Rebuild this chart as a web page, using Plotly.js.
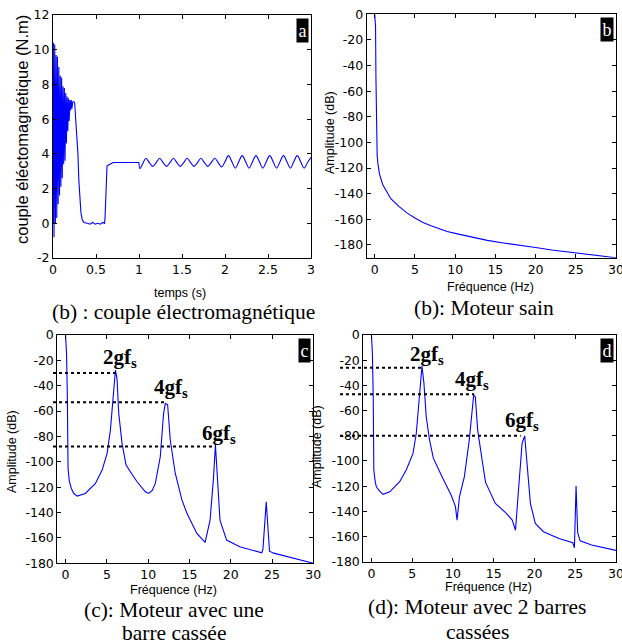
<!DOCTYPE html>
<html>
<head>
<meta charset="utf-8">
<script src="https://cdn.plot.ly/plotly-3.0.1.min.js"></script>
<style>
  html, body { margin: 0; padding: 0; background: #fff; }
  #chart { width: 622px; height: 644px; }
</style>
</head>
<body>
<div id="chart"></div>
<script>
// ---------- Panel a : electromagnetic torque ----------
var torqueStartT = [0, 0.004, 0.012, 0.02, 0.028, 0.036, 0.044, 0.052, 0.06, 0.068, 0.076, 0.084, 0.092, 0.1, 0.108, 0.116, 0.124, 0.132, 0.14, 0.148, 0.156, 0.164, 0.172, 0.18, 0.188, 0.196, 0.204, 0.212, 0.22, 0.23, 0.245,
  0.253, 0.27, 0.29, 0.30, 0.31, 0.325, 0.34, 0.36, 0.40, 0.43, 0.46, 0.49, 0.52, 0.55, 0.58, 0.60, 0.605, 0.612, 0.62, 0.628, 0.64, 0.66, 0.68, 0.70, 1.00];
var torqueStartV = [0, 10.4, -0.8, 10.3, 0.0, 9.7, 0.3, 9.6, 1.1, 9.0, 1.6, 8.5, 2.1, 8.4, 2.6, 7.9, 3.4, 7.8, 3.6, 7.5, 4.6, 7.3, 5.3, 7.2, 5.9, 7.1, 6.5, 7.1, 6.6, 7.0, 7.0,
  6.9, 5.5, 4.0, 2.5, 1.5, 0.6, 0.2, 0.05, 0.0, -0.05, 0.05, -0.05, 0.0, -0.05, 0.05, 0.0, 0.3, 1.5, 2.5, 3.3, 3.35, 3.4, 3.45, 3.5, 3.5];
var torqueLoadT = [1.00, 1.01, 1.045, 1.08, 1.12, 1.16, 1.20, 1.24, 1.28, 1.32, 1.36, 1.40, 1.44, 1.48, 1.52, 1.56, 1.60, 1.64, 1.68, 1.72, 1.76, 1.80, 1.84, 1.88, 1.92, 1.96, 2.00, 2.04, 2.08, 2.12, 2.16, 2.20, 2.24, 2.28, 2.32, 2.36, 2.40, 2.44, 2.48, 2.52, 2.56, 2.60, 2.64, 2.68, 2.72, 2.76, 2.80, 2.84, 2.88, 2.92, 2.96, 3.00];
var torqueLoadV = [3.5, 3.15, 3.45, 3.75, 3.5, 3.28, 3.5, 3.75, 3.5, 3.28, 3.5, 3.75, 3.5, 3.28, 3.5, 3.75, 3.5, 3.28, 3.5, 3.75, 3.5, 3.28, 3.5, 3.75, 3.5, 3.25, 3.55, 3.9, 3.55, 3.18, 3.55, 3.9, 3.55, 3.18, 3.55, 3.9, 3.55, 3.18, 3.55, 3.9, 3.55, 3.18, 3.55, 3.9, 3.55, 3.18, 3.55, 3.9, 3.55, 3.18, 3.5, 3.8];

// ---------- Panel b : healthy motor spectrum ----------
var freqB = [0, 0.1, 0.15, 0.2, 0.3, 0.4, 0.6, 1.0, 1.5, 2.0, 3.0, 4.0, 5.0, 6.0, 7.0, 8.0, 9.0, 10.0, 12.0, 14.0, 16.0, 18.0, 20.0, 22.0, 24.0, 26.0, 28.0, 30.0];
var ampB  = [0, -10, -50, -100, -110, -117, -125, -133, -138, -144, -150, -155, -159, -162.5, -165, -167.5, -169.5, -171, -174, -176.5, -178.5, -180, -182, -184, -185.5, -187, -188.5, -190];

// ---------- Panel c : one broken bar ----------
var freqC = [0, 0.12, 0.22, 0.3, 0.45, 0.7, 1.0, 1.41, 2.4, 3.0, 3.62, 4.43, 5.03, 5.43, 5.72, 6.04, 6.24, 6.44, 6.84, 7.33, 7.85, 8.66, 9.66, 10.07, 10.5, 10.87, 11.47, 11.87, 12.08, 12.36, 12.68, 13.28, 14.09, 14.7, 15.9, 16.9, 17.5, 17.9, 18.15, 18.4, 18.7, 19.5, 21.1, 23.75, 23.9, 24.3, 24.5, 24.7, 25.2, 27.5, 30];
var ampC  = [0, -15, -50, -105, -115, -121, -125, -127, -124.9, -121, -117, -106.5, -93.3, -75, -48.6, -27.6, -35, -61.8, -85.4, -102.5, -107.8, -115.7, -123.6, -124.9, -122.5, -117, -96, -61.8, -53.9, -55, -82.8, -109, -130, -140.6, -156.4, -163.5, -145.9, -114, -86.7, -114, -145.9, -161.7, -167, -171.7, -169, -131.5, -148, -170.5, -172, -176, -180];

// ---------- Panel d : two broken bars ----------
var freqD = [0, 0.12, 0.22, 0.29, 0.45, 0.6, 1.0, 1.43, 2.24, 3.46, 4.28, 5.1, 5.5, 5.9, 6.2, 6.44, 6.72, 7.13, 7.6, 8.75, 9.77, 10.3, 10.5, 10.8, 11.4, 12.0, 12.54, 12.74, 13.03, 13.64, 14.0, 15.2, 16.45, 17.27, 17.67, 18.07, 18.48, 18.8, 19.1, 19.5, 20.1, 21.1, 23.0, 24.7, 24.9, 25.1, 25.3, 25.6, 27.0, 30];
var ampD  = [0, -15, -50, -107, -116, -120.5, -124, -126.5, -124.5, -116.5, -107, -94, -78, -49, -24.6, -38.5, -64.9, -83.4, -98, -113.8, -127, -136, -147, -128.4, -112.5, -83.4, -47.7, -49, -75.5, -102, -117, -133.7, -141, -147, -155, -120.5, -86, -80.2, -101.5, -133.7, -149.6, -156.2, -161.5, -165, -169, -120, -157, -163.4, -166.8, -171];

// ---------- Peak markers (harmonic labels) ----------
var peakLabels = ['2gf<sub>s</sub>', '4gf<sub>s</sub>', '6gf<sub>s</sub>'];
var peaksCf = [6.04, 12.3, 18.15];
var peaksCa = [-30, -53, -88];
var labelCf = [6.64, 12.8, 18.6];
var labelCa = [-18, -42, -78];
var peaksDf = [6.27, 12.6, 18.3];
var peaksDa = [-26, -47, -80];
var labelDf = [6.8, 12.3, 18.5];
var labelDa = [-16, -36, -68];

// ---------- Tick labels ----------
var torqueTicks = [-2, 0, 2, 4, 6, 8, 10, 12];
var torqueTickText = ['-2', '0', '2', '4', '6', '8', '10', '12'];
var timeTicks = [0, 0.5, 1, 1.5, 2, 2.5, 3];
var timeTickText = ['0', '0.5', '1', '1.5', '2', '2.5', '3'];
var freqTicks = [0, 5, 10, 15, 20, 25, 30];
var freqTickText = ['0', '5', '10', '15', '20', '25', '30'];
var dbTicks = [0, -20, -40, -60, -80, -100, -120, -140, -160, -180];
var dbTickText = ['0', '-20', '-40', '-60', '-80', '-100', '-120', '-140', '-160', '-180'];

var blue = '#0000ff';
var tickFont = {family: 'DejaVu Sans', size: 12.5, color: '#000'};
var lineStyle = {color: blue, width: 1.1};

var traces = [
  {x: torqueStartT, y: torqueStartV, xaxis: 'x', yaxis: 'y', type: 'scatter', mode: 'lines', line: lineStyle, hoverinfo: 'skip'},
  {x: torqueLoadT, y: torqueLoadV, xaxis: 'x', yaxis: 'y', type: 'scatter', mode: 'lines', line: {color: blue, width: 1.1, shape: 'spline', smoothing: 1}, hoverinfo: 'skip'},
  {x: freqB, y: ampB, xaxis: 'x2', yaxis: 'y2', type: 'scatter', mode: 'lines', line: lineStyle, hoverinfo: 'skip'},
  {x: freqC, y: ampC, xaxis: 'x3', yaxis: 'y3', type: 'scatter', mode: 'lines', line: lineStyle, hoverinfo: 'skip'},
  {x: freqD, y: ampD, xaxis: 'x4', yaxis: 'y4', type: 'scatter', mode: 'lines', line: lineStyle, hoverinfo: 'skip'}
];

function axisBase(extra) {
  var a = {
    showline: true, linecolor: '#000', linewidth: 1, mirror: 'ticks',
    ticks: 'inside', ticklen: 4, tickwidth: 1, tickcolor: '#000',
    showgrid: false, zeroline: false, tickfont: tickFont, tickmode: 'array',
    ticklabeloverflow: 'allow', fixedrange: true
  };
  for (var k in extra) a[k] = extra[k];
  return a;
}
function hiddenAxis(extra) {
  var a = {visible: false, showgrid: false, zeroline: false, showline: false, fixedrange: true};
  for (var k in extra) a[k] = extra[k];
  return a;
}

var W = 622, H = 644;
function px(x) { return x / W; }
function py(y) { return 1 - y / H; }

var guideStartC = -1.52;   // guide lines of panel c start slightly left of its axis
var guideStartD = -3.86;   // guide lines of panel d start well left of its axis

var layout = {
  width: W, height: H,
  margin: {l: 0, r: 0, t: 0, b: 0},
  paper_bgcolor: '#fff', plot_bgcolor: 'rgba(0,0,0,0)',
  showlegend: false,
  font: {family: 'Liberation Sans', color: '#000'},
  xaxis:  axisBase({domain: [px(53), px(311)], anchor: 'y', range: [0, 3], tickvals: timeTicks, ticktext: timeTickText}),
  yaxis:  axisBase({domain: [py(258), py(15)], anchor: 'x', range: [-2, 12], tickvals: torqueTicks, ticktext: torqueTickText}),
  xaxis2: axisBase({domain: [px(366.7), px(616)], anchor: 'y2', range: [-1, 30], tickvals: freqTicks, ticktext: freqTickText}),
  yaxis2: axisBase({domain: [py(257.7), py(14.3)], anchor: 'x2', range: [-190, 0], tickvals: dbTicks, ticktext: dbTickText}),
  xaxis3: axisBase({domain: [px(57.3), px(313.3)], anchor: 'y3', range: [-1, 30], tickvals: freqTicks, ticktext: freqTickText}),
  yaxis3: axisBase({domain: [py(563.3), py(335)], anchor: 'x3', range: [-180, 0], tickvals: dbTicks, ticktext: dbTickText}),
  xaxis4: axisBase({domain: [px(363.3), px(616)], anchor: 'y4', range: [-1, 30], tickvals: freqTicks, ticktext: freqTickText}),
  yaxis4: axisBase({domain: [py(561.7), py(335)], anchor: 'x4', range: [-180, 0], tickvals: dbTicks, ticktext: dbTickText}),
  // hidden helper subplots, wider on the left, used for the dotted guide lines
  xaxis5: hiddenAxis({domain: [px(53), px(313.3)], anchor: 'y5', range: [guideStartC, 30]}),
  yaxis5: hiddenAxis({domain: [py(563.3), py(335)], anchor: 'x5', range: [-180, 0]}),
  xaxis6: hiddenAxis({domain: [px(340), px(616)], anchor: 'y6', range: [guideStartD, 30]}),
  yaxis6: hiddenAxis({domain: [py(561.7), py(335)], anchor: 'x6', range: [-180, 0]}),
  shapes: [],
  annotations: []
};

var serif = 'Liberation Serif';
var ann = layout.annotations;

function paperText(text, x, y, size, angle, family) {
  ann.push({text: text, xref: 'paper', yref: 'paper', x: px(x), y: py(y), xanchor: 'center', yanchor: 'middle',
    showarrow: false, textangle: angle || 0, font: {family: family || 'Liberation Sans', size: size, color: '#000'}});
}
// axis titles
paperText('couple éléctomagnétique (N.m)', 22, 130, 16.5, -90);
paperText('temps (s)', 180, 293, 12.5, 0);
paperText('Amplitude (dB)', 330, 133, 12.5, -90);
paperText('Fréquence (Hz)', 490, 287, 12.5, 0);
paperText('Amplitude (dB)', 12, 452, 12.5, -90);
paperText('Fréquence (Hz)', 173, 590, 12.5, 0);
paperText('Amplitude (dB)', 317, 447, 12.5, -90);
paperText('Fréquence (Hz)', 488, 587, 12.5, 0);

// captions
paperText('(b) : couple électromagnétique', 183, 312, 21.5, 0, serif);
paperText('(b): Moteur sain', 484, 308, 21.5, 0, serif);
paperText('(c): Moteur avec une', 174, 610, 21.5, 0, serif);
paperText('barre cassée', 174, 633, 21.5, 0, serif);
paperText('(d): Moteur avec 2 barres', 477, 607, 21.5, 0, serif);
paperText('cassées', 477, 632, 21.5, 0, serif);

// panel letters
var letters = ['a', 'b', 'c', 'd'];
var axIds = ['', '2', '3', '4'];
for (var i = 0; i < 4; i++) {
  ann.push({text: letters[i], xref: 'x' + axIds[i] + ' domain', yref: 'y' + axIds[i] + ' domain', x: 0.992, y: 0.988,
    xanchor: 'right', yanchor: 'top', showarrow: false, bgcolor: '#000', borderpad: 1.5,
    font: {family: serif, size: 18, color: '#fff'}});
}

// harmonic labels and dotted guide lines
var dotted = {color: '#000', width: 2, dash: 'dot'};
for (var j = 0; j < 3; j++) {
  ann.push({text: '<b>' + peakLabels[j] + '</b>', xref: 'x3', yref: 'y3', x: labelCf[j], y: labelCa[j], showarrow: false,
    xanchor: 'center', yanchor: 'middle', font: {family: serif, size: 21, color: '#000'}});
  ann.push({text: '<b>' + peakLabels[j] + '</b>', xref: 'x4', yref: 'y4', x: labelDf[j], y: labelDa[j], showarrow: false,
    xanchor: 'center', yanchor: 'middle', font: {family: serif, size: 21, color: '#000'}});
  layout.shapes.push({type: 'line', xref: 'x5', yref: 'y5', x0: guideStartC, x1: peaksCf[j], y0: peaksCa[j], y1: peaksCa[j], line: dotted});
  layout.shapes.push({type: 'line', xref: 'x6', yref: 'y6', x0: guideStartD, x1: peaksDf[j], y0: peaksDa[j], y1: peaksDa[j], line: dotted});
}

Plotly.newPlot('chart', traces, layout, {staticPlot: true, displayModeBar: false});
</script>
</body>
</html>
